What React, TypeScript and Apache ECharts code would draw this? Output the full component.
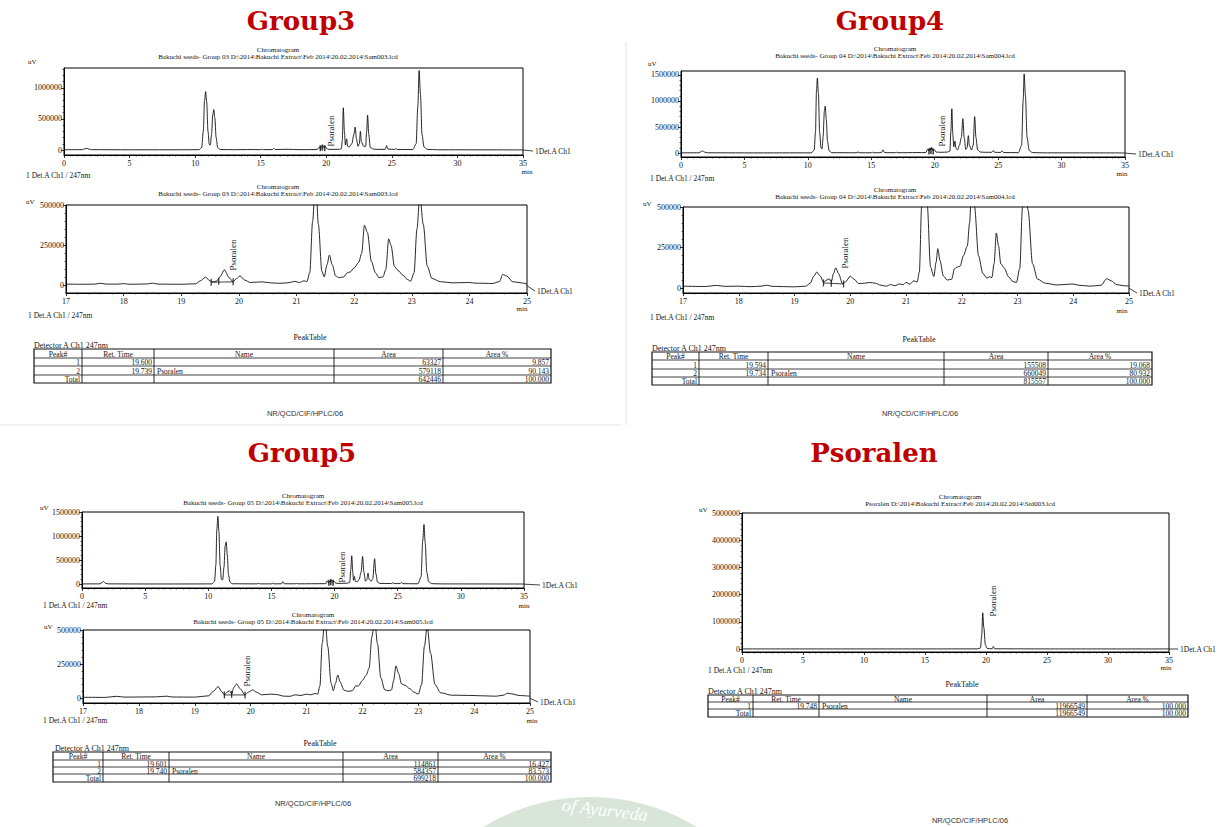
import React, { useEffect, useRef } from "react";
import * as echarts from "echarts";

// ---------------- DATA ----------------
const g3Full: number[][] = [
  [0, 5000], [1.4, 6000], [1.6, 20000], [1.75, 28000], [1.9, 15000], [2.1, 6000], [5, 4000], [8, 4000],
  [10.3, 5000], [10.5, 40000], [10.62, 300000], [10.72, 800000], [10.8, 940000], [10.88, 780000], [10.98, 300000],
  [11.08, 90000], [11.16, 80000], [11.25, 250000], [11.34, 560000], [11.42, 650000], [11.5, 520000], [11.6, 200000],
  [11.72, 40000], [11.9, 8000], [13, 5000], [14, 8000], [15.0, 6000], [15.1, 15000], [15.2, 6000], [15.9, 8000],
  [16.0, 30000], [16.1, 8000], [17, 12000], [18, 6000], [19.3, 8000], [19.5, 50000], [19.55, 15000], [19.65, 60000],
  [19.74, 75000], [19.82, 40000], [19.9, 60000], [20.0, 30000], [20.2, 10000], [21.0, 12000], [21.15, 20000],
  [21.22, 150000], [21.3, 680000], [21.38, 300000], [21.46, 80000], [21.55, 180000], [21.63, 60000], [21.75, 50000],
  [21.95, 100000], [22.1, 250000], [22.2, 370000], [22.3, 180000], [22.42, 60000], [22.52, 100000], [22.6, 300000],
  [22.68, 130000], [22.85, 60000], [23.0, 60000], [23.08, 300000], [23.15, 560000], [23.24, 250000], [23.35, 40000],
  [23.6, 15000], [24.0, 10000], [24.5, 12000], [24.6, 70000], [24.7, 15000], [25.2, 10000], [25.3, 25000],
  [25.4, 8000], [26.6, 8000], [26.85, 100000], [26.98, 700000], [27.08, 1280000], [27.18, 900000], [27.3, 250000],
  [27.45, 50000], [27.7, 10000], [28.5, 4000], [35, 2000],
];
const g3Zoom: number[][] = [
  [17, 10000], [17.3, 9000], [17.5, 10000], [17.6, 15000], [17.7, 10000], [17.9, 10000], [18.0, 13000], [18.1, 9000],
  [18.4, 11000], [18.5, 16000], [18.6, 10000], [19.0, 9000], [19.25, 12000], [19.33, 30000], [19.42, 53000],
  [19.5, 30000], [19.55, 22000], [19.62, 30000], [19.67, 55000], [19.75, 98000], [19.83, 50000], [19.9, 25000],
  [19.96, 45000], [20.02, 61000], [20.1, 35000], [20.2, 20000], [20.3, 22000], [20.4, 24000], [20.55, 18000],
  [20.7, 15000], [20.85, 18000], [20.97, 27000], [21.05, 20000], [21.13, 30000], [21.18, 26000], [21.23, 80000],
  [21.28, 400000], [21.33, 680000], [21.38, 380000], [21.44, 90000], [21.48, 55000], [21.53, 130000], [21.57, 190000],
  [21.62, 130000], [21.68, 60000], [21.74, 50000], [21.82, 55000], [21.88, 80000], [21.93, 85000], [22.0, 110000],
  [22.08, 145000], [22.13, 200000], [22.18, 375000], [22.23, 330000], [22.3, 150000], [22.37, 80000], [22.43, 50000],
  [22.5, 55000], [22.55, 100000], [22.6, 290000], [22.64, 250000], [22.7, 120000], [22.76, 95000], [22.85, 65000],
  [22.92, 40000], [22.98, 28000], [23.04, 80000], [23.09, 350000], [23.14, 560000], [23.2, 380000], [23.27, 120000],
  [23.35, 45000], [23.5, 25000], [23.7, 18000], [24.0, 20000], [24.1, 16000], [24.4, 14000], [24.52, 25000],
  [24.58, 70000], [24.65, 60000], [24.75, 25000], [24.9, 18000], [25, 10000],
];
const g4Full: number[][] = [
  [0, 5000], [1.4, 6000], [1.6, 30000], [1.7, 44000], [1.85, 20000], [2.1, 6000], [5, 4000], [8, 4000],
  [10.3, 5000], [10.5, 60000], [10.6, 400000], [10.68, 1200000], [10.75, 1440000], [10.83, 1150000], [10.93, 400000],
  [11.03, 100000], [11.12, 80000], [11.2, 300000], [11.3, 800000], [11.37, 900000], [11.45, 650000], [11.55, 220000],
  [11.68, 40000], [11.9, 8000], [13.8, 6000], [13.95, 20000], [14.1, 6000], [15.0, 6000], [15.1, 15000], [15.2, 6000],
  [15.8, 8000], [15.92, 63000], [16.05, 8000], [16.9, 8000], [17.0, 15000], [17.1, 7000], [18.6, 10000],
  [19.3, 10000], [19.45, 80000], [19.55, 40000], [19.62, 100000], [19.7, 60000], [19.76, 110000], [19.85, 50000],
  [19.92, 70000], [20.0, 60000], [20.1, 20000], [20.5, 15000], [21.0, 20000], [21.2, 40000], [21.27, 400000],
  [21.35, 850000], [21.43, 350000], [21.5, 120000], [21.6, 230000], [21.68, 90000], [21.8, 60000], [21.95, 150000],
  [22.1, 300000], [22.22, 660000], [22.32, 300000], [22.45, 70000], [22.55, 100000], [22.65, 335000], [22.73, 150000],
  [22.9, 60000], [23.03, 150000], [23.15, 700000], [23.25, 300000], [23.38, 60000], [23.6, 20000], [24.0, 15000],
  [24.5, 15000], [24.62, 50000], [24.72, 15000], [25.2, 12000], [25.3, 45000], [25.42, 10000], [26.6, 8000],
  [26.85, 150000], [26.97, 1000000], [27.05, 1520000], [27.15, 1100000], [27.28, 300000], [27.45, 50000],
  [27.7, 10000], [28.5, 5000], [35, 3000],
];
const g4Zoom: number[][] = [
  [17, 12000], [17.4, 10000], [17.6, 17000], [17.75, 11000], [18.0, 12000], [18.2, 9000], [18.4, 12000],
  [18.5, 18000], [18.6, 11000], [19.0, 8000], [19.2, 12000], [19.28, 30000], [19.35, 75000], [19.4, 99000],
  [19.46, 75000], [19.52, 37000], [19.58, 50000], [19.62, 58000], [19.66, 40000], [19.7, 90000], [19.74, 125000],
  [19.79, 90000], [19.86, 28000], [19.92, 40000], [20.0, 74000], [20.07, 55000], [20.15, 28000], [20.25, 30000],
  [20.35, 35000], [20.45, 30000], [20.55, 18000], [20.65, 12000], [20.72, 22000], [20.8, 15000], [20.88, 25000],
  [20.95, 22000], [21.0, 35000], [21.07, 25000], [21.14, 45000], [21.2, 38000], [21.24, 100000], [21.28, 500000],
  [21.33, 850000], [21.38, 520000], [21.44, 130000], [21.5, 72000], [21.54, 160000], [21.57, 243000],
  [21.61, 170000], [21.67, 75000], [21.74, 50000], [21.82, 55000], [21.87, 120000], [21.92, 130000],
  [21.97, 135000], [22.03, 200000], [22.1, 260000], [22.14, 400000], [22.18, 660000], [22.23, 500000],
  [22.3, 200000], [22.38, 90000], [22.45, 62000], [22.5, 70000], [22.54, 65000], [22.58, 150000], [22.62, 340000],
  [22.66, 260000], [22.7, 150000], [22.76, 125000], [22.84, 70000], [22.92, 40000], [22.98, 35000], [23.04, 120000],
  [23.09, 500000], [23.13, 700000], [23.19, 480000], [23.27, 150000], [23.36, 55000], [23.5, 30000], [23.7, 20000],
  [24.0, 25000], [24.1, 18000], [24.3, 12000], [24.5, 18000], [24.6, 58000], [24.68, 45000], [24.78, 22000],
  [24.9, 15000], [25, 12000],
];
const g5Full: number[][] = [
  [0, 5000], [1.4, 6000], [1.6, 35000], [1.7, 55000], [1.85, 20000], [2.1, 6000], [5, 4000], [8, 4000],
  [10.3, 5000], [10.5, 60000], [10.6, 400000], [10.68, 1150000], [10.76, 1410000], [10.84, 1100000], [10.94, 380000],
  [11.04, 100000], [11.14, 90000], [11.24, 350000], [11.34, 800000], [11.42, 880000], [11.5, 620000], [11.6, 200000],
  [11.72, 40000], [11.9, 8000], [13.85, 6000], [14.0, 15000], [14.1, 6000], [15.0, 6000], [15.1, 20000], [15.2, 6000],
  [15.8, 8000], [15.9, 55000], [16.02, 8000], [16.9, 8000], [17.0, 15000], [17.1, 7000], [19.3, 10000],
  [19.42, 70000], [19.52, 30000], [19.62, 60000], [19.68, 40000], [19.75, 90000], [19.85, 40000], [19.95, 65000],
  [20.05, 30000], [20.2, 15000], [21.0, 20000], [21.2, 35000], [21.28, 300000], [21.36, 590000], [21.44, 250000],
  [21.5, 80000], [21.57, 160000], [21.65, 60000], [21.8, 50000], [21.95, 100000], [22.1, 250000], [22.22, 576000],
  [22.32, 250000], [22.45, 60000], [22.55, 90000], [22.65, 230000], [22.73, 100000], [22.9, 60000], [23.03, 120000],
  [23.17, 528000], [23.27, 220000], [23.4, 40000], [23.6, 15000], [24.5, 12000], [24.62, 30000], [24.72, 12000],
  [25.2, 12000], [25.3, 35000], [25.42, 10000], [26.6, 8000], [26.85, 150000], [26.98, 900000], [27.08, 1240000],
  [27.18, 850000], [27.3, 250000], [27.45, 50000], [27.7, 10000], [28.5, 5000], [35, 3000],
];
const g5Zoom: number[][] = [
  [17, 7000], [17.4, 6000], [17.6, 14000], [17.75, 8000], [18.0, 9000], [18.3, 10000], [18.5, 15000], [18.6, 9000],
  [19.0, 8000], [19.25, 18000], [19.33, 50000], [19.42, 85000], [19.48, 50000], [19.53, 25000], [19.58, 45000],
  [19.62, 55000], [19.66, 30000], [19.7, 80000], [19.75, 105000], [19.81, 70000], [19.9, 25000], [19.96, 45000],
  [20.04, 61000], [20.1, 45000], [20.2, 25000], [20.35, 30000], [20.45, 28000], [20.6, 15000], [20.7, 14000],
  [20.8, 25000], [20.9, 20000], [21.0, 30000], [21.08, 25000], [21.15, 35000], [21.2, 30000], [21.24, 90000],
  [21.28, 400000], [21.33, 590000], [21.38, 380000], [21.44, 110000], [21.48, 55000], [21.52, 110000],
  [21.56, 170000], [21.6, 120000], [21.67, 60000], [21.74, 50000], [21.82, 55000], [21.88, 90000], [21.93, 90000],
  [22.0, 130000], [22.07, 170000], [22.12, 220000], [22.17, 450000], [22.22, 576000], [22.27, 400000],
  [22.33, 150000], [22.4, 62000], [22.46, 55000], [22.52, 60000], [22.56, 130000], [22.6, 237000], [22.65, 180000],
  [22.7, 105000], [22.76, 95000], [22.85, 70000], [22.92, 45000], [23.0, 30000], [23.06, 100000], [23.11, 380000],
  [23.16, 528000], [23.22, 330000], [23.3, 100000], [23.4, 40000], [23.6, 22000], [24.0, 20000], [24.1, 18000],
  [24.4, 15000], [24.52, 22000], [24.6, 37000], [24.7, 30000], [24.8, 20000], [25, 15000],
];
const psoFull: number[][] = [
  [0, 3000], [5, 3000], [10, 3000], [15, 3000], [19.3, 5000], [19.55, 40000], [19.65, 500000], [19.73, 1330000],
  [19.82, 800000], [19.95, 150000], [20.1, 20000], [20.5, 8000], [20.6, 100000], [20.7, 8000], [25, 3000], [35, 2000],
];

// integration marks (peak start / end) near the psoralen peak
const g3Marks: number[][] = [[19.52, 22000], [19.65, 28000], [19.9, 24000]];
const g4Marks: number[][] = [[19.52, 32000], [19.66, 30000], [19.88, 26000]];
const g5Marks: number[][] = [[19.53, 24000], [19.66, 28000], [19.9, 24000]];
const fullMarks: number[][] = [[19.55, 30000], [19.7, 40000], [19.88, 30000]];

const ticksTop3 = [0, 500000, 1000000];
const ticksTop15 = [0, 500000, 1000000, 1500000];
const ticksZoom = [0, 250000, 500000];
const ticksPso = [0, 1000000, 2000000, 3000000, 4000000, 5000000];

const tableHeader = ["Peak#", "Ret. Time", "Name", "Area", "Area %"];
const g3Peaks = [["1", "19.600", "", "63327", "9.857"], ["2", "19.739", "Psoralen", "579118", "90.143"]];
const g3Total = ["Total", "", "", "642446", "100.000"];
const g4Peaks = [["1", "19.594", "", "155508", "19.068"], ["2", "19.734", "Psoralen", "660049", "80.932"]];
const g4Total = ["Total", "", "", "815557", "100.000"];
const g5Peaks = [["1", "19.601", "", "114861", "16.427"], ["2", "19.740", "Psoralen", "584357", "83.573"]];
const g5Total = ["Total", "", "", "699218", "100.000"];
const psoPeaks = [["1", "19.748", "Psoralen", "11966549", "100.000"]];
const psoTotal = ["Total", "", "", "11966549", "100.000"];

const sub3 = "Bakuchi seeds- Group 03 D:\\2014\\Bakuchi Extract\\Feb 2014\\20.02.2014\\Sam003.lcd";
const sub4 = "Bakuchi seeds- Group 04 D:\\2014\\Bakuchi Extract\\Feb 2014\\20.02.2014\\Sam004.lcd";
const sub5 = "Bakuchi seeds- Group 05 D:\\2014\\Bakuchi Extract\\Feb 2014\\20.02.2014\\Sam005.lcd";
const subP = "Psoralen D:\\2014\\Bakuchi Extract\\Feb 2014\\20.02.2014\\Std003.lcd";

// ---------------- LAYOUT ----------------
const SERIF = "'Liberation Serif', 'Times New Roman', serif";
const SANS = "'Liberation Sans', Arial, sans-serif";
const TITLE_FONT = "'DejaVu Serif', serif";
const RED = "#C00000";

type Spec = {
  data: number[][]; marks: number[][] | null; zoom: boolean;
  g: { left: number; top: number; width: number; height: number };
  xr: [number, number, number]; yr: [number, number]; ticks: number[]; minor: number;
  cx: number; subY: number; sub: string; uv: [number, number]; det: [number, number];
  min: [number, number]; detR: [number, number]; pso: [number, number];
};

const specs: Spec[] = [
  { data: g3Full, marks: fullMarks, zoom: false, g: { left: 64, top: 68, width: 459, height: 87 }, xr: [0, 35, 5], yr: [-80000, 1320000], ticks: ticksTop3, minor: 100000,
    cx: 278, sub: sub3, subY: 57, uv: [28, 62], det: [26, 175], min: [527, 172], detR: [535, 151], pso: [331, 131] },
  { data: g3Zoom, marks: g3Marks, zoom: true, g: { left: 66, top: 205, width: 461, height: 88 }, xr: [17, 25, 1], yr: [-45000, 500000], ticks: ticksZoom, minor: 50000,
    cx: 278, sub: sub3, subY: 194, uv: [26, 202], det: [28, 315], min: [522, 309], detR: [537, 291], pso: [233, 255] },
  { data: g4Full, marks: fullMarks, zoom: false, g: { left: 681, top: 71, width: 444, height: 86 }, xr: [0, 35, 5], yr: [-75000, 1575000], ticks: ticksTop15, minor: 100000,
    cx: 895, sub: sub4, subY: 56, uv: [648, 64], det: [650, 178], min: [1122, 174], detR: [1138, 154], pso: [942, 131] },
  { data: g4Zoom, marks: g4Marks, zoom: true, g: { left: 683, top: 207, width: 446, height: 86 }, xr: [17, 25, 1], yr: [-30000, 500000], ticks: ticksZoom, minor: 50000,
    cx: 895, sub: sub4, subY: 197, uv: [643, 204], det: [650, 317], min: [1122, 311], detR: [1139, 293], pso: [845, 253] },
  { data: g5Full, marks: fullMarks, zoom: false, g: { left: 82, top: 512, width: 442, height: 76 }, xr: [0, 35, 5], yr: [-80000, 1500000], ticks: ticksTop15, minor: 100000,
    cx: 303, sub: sub5, subY: 503, uv: [40, 508], det: [43, 605], min: [524, 606], detR: [542, 585], pso: [342, 567] },
  { data: g5Zoom, marks: g5Marks, zoom: true, g: { left: 83, top: 630, width: 447, height: 73 }, xr: [17, 25, 1], yr: [-35000, 500000], ticks: ticksZoom, minor: 50000,
    cx: 313, sub: sub5, subY: 622, uv: [44, 627], det: [43, 720], min: [532, 721], detR: [540, 702], pso: [247, 671] },
  { data: psoFull, marks: null, zoom: false, g: { left: 742, top: 513, width: 427, height: 139 }, xr: [0, 35, 5], yr: [-110000, 5000000], ticks: ticksPso, minor: 200000,
    cx: 960, sub: subP, subY: 504, uv: [699, 510], det: [708, 670], min: [1166, 668], detR: [1180, 649], pso: [993, 601] },
];

const tables = [
  { cols: [34, 82, 154, 334, 443, 551], rows: [349, 358, 366, 375, 383], peaks: g3Peaks, total: g3Total, pt: [310, 337], det: [34, 345], foot: [305, 413] },
  { cols: [652, 699, 768, 944, 1048, 1152], rows: [352, 360, 369, 377, 385], peaks: g4Peaks, total: g4Total, pt: [919, 339], det: [652, 348], foot: [920, 413] },
  { cols: [53, 103, 169, 343, 438, 551], rows: [752, 760, 767, 774, 782], peaks: g5Peaks, total: g5Total, pt: [320, 743], det: [55, 748], foot: [313, 803] },
  { cols: [708, 753, 819, 987, 1087, 1188], rows: [695, 702, 709, 717], peaks: psoPeaks, total: psoTotal, pt: [962, 684], det: [708, 691], foot: [970, 820] },
];

function txt(x: number, y: number, text: string, size: number, align = "left", vAlign = "middle", extra: any = {}) {
  return {
    type: "text", x, y, silent: true, z: 10,
    style: { text, fontSize: size, fontFamily: SERIF, fill: "#151515", align, verticalAlign: vAlign, textAlign: align, textVerticalAlign: vAlign, ...extra },
  };
}
function ln(x1: number, y1: number, x2: number, y2: number, w = 0.8, color = "#111") {
  return { type: "line", silent: true, z: 10, shape: { x1, y1, x2, y2 }, style: { stroke: color, lineWidth: w } };
}

function buildOption() {
  const grid: any[] = [];
  const xAxis: any[] = [];
  const yAxis: any[] = [];
  const series: any[] = [];
  const elements: any[] = [];

  specs.forEach((s, i) => {
    grid.push({ ...s.g, show: true, borderColor: "#000", borderWidth: 1, backgroundColor: "transparent" });
    xAxis.push({
      gridIndex: i, type: "value", min: s.xr[0], max: s.xr[1], interval: s.xr[2],
      axisLine: { show: true, onZero: false, lineStyle: { color: "#000", width: 1 } },
      axisTick: { show: true, length: 3, lineStyle: { color: "#000", width: 0.8 } },
      minorTick: { show: true, splitNumber: s.zoom ? 5 : 10, length: 1.5, lineStyle: { color: "#000", width: 0.6 } },
      axisLabel: { fontSize: 8, fontFamily: SERIF, color: "#151515", margin: 4 },
      splitLine: { show: false }, minorSplitLine: { show: false },
    });
    const minorVals: number[] = [];
    for (let v = s.minor; v <= s.yr[1] + 1; v += s.minor) if (!s.ticks.includes(v)) minorVals.push(v);
    yAxis.push({
      gridIndex: i, type: "value", min: s.yr[0], max: s.yr[1],
      axisLine: { show: true, onZero: false, lineStyle: { color: "#000", width: 1 } },
      axisTick: { show: true, length: 3, customValues: s.ticks, lineStyle: { color: "#000", width: 0.8 } },
      axisLabel: { customValues: s.ticks, fontSize: 8, fontFamily: SERIF, color: "#151515", margin: 2, formatter: (v: number) => String(v) },
      splitLine: { show: false },
    });
    yAxis.push({
      gridIndex: i, type: "value", min: s.yr[0], max: s.yr[1], position: "left",
      axisLine: { show: false }, axisLabel: { show: false }, splitLine: { show: false },
      axisTick: { show: true, length: 1.5, customValues: minorVals, lineStyle: { color: "#000", width: 0.6 } },
    });
    series.push({
      type: "line", xAxisIndex: i, yAxisIndex: 2 * i, data: s.data, showSymbol: false, symbol: "none",
      smooth: 0.3, smoothMonotone: "x", clip: true, silent: true,
      lineStyle: { color: "#111", width: 0.9 },
    });
    if (s.marks) {
      if (s.zoom) {
        series.push({
          type: "line", xAxisIndex: i, yAxisIndex: 2 * i, data: [s.marks[0], s.marks[s.marks.length - 1]],
          showSymbol: false, symbol: "none", silent: true, lineStyle: { color: "#111", width: 0.8 },
        });
      }
      series.push({
        type: "scatter", xAxisIndex: i, yAxisIndex: 2 * i, data: s.marks, symbol: "rect",
        symbolSize: s.zoom ? [1.3, 7] : [1.6, 6], silent: true, itemStyle: { color: "#111" },
      });
    }

    // texts around the chromatogram
    const right = s.g.left + s.g.width;
    const zeroY = s.g.top + (s.g.height * s.yr[1]) / (s.yr[1] - s.yr[0]);
    elements.push(txt(s.cx, s.subY - 3.5, "Chromatogram", 7, "center", "bottom"));
    elements.push(txt(s.cx, s.subY, s.sub, 7, "center"));
    elements.push(txt(s.uv[0], s.uv[1], "uV", 7, "left"));
    elements.push(txt(s.det[0], s.det[1], "1 Det.A Ch1 / 247nm", 7.5, "left"));
    elements.push(txt(s.min[0], s.min[1], "min", 7, "center"));
    elements.push(ln(right, zeroY, s.detR[0] - 2, s.detR[1]));
    elements.push(txt(s.detR[0], s.detR[1], "1Det.A Ch1", 7.5, "left"));
    elements.push({ ...txt(s.pso[0], s.pso[1], "Psoralen", 9, "center"), rotation: Math.PI / 2 });
  });

  // Panel titles
  const titles: [string, number, number][] = [["Group3", 301, 21], ["Group4", 890, 21], ["Group5", 302, 453], ["Psoralen", 874, 453]];
  titles.forEach(([t, x, y]) =>
    elements.push({
      type: "text", x, y, silent: true, z: 10,
      style: { text: t, fontSize: 26, fontWeight: "bold", fontFamily: TITLE_FONT, fill: RED, align: "center", verticalAlign: "middle", textAlign: "center", textVerticalAlign: "middle" },
    })
  );

  // Peak tables
  tables.forEach((tb) => {
    const { cols, rows } = tb;
    const cells = [tableHeader, ...tb.peaks, tb.total];
    const L = cols[0], R = cols[cols.length - 1], T = rows[0], B = rows[rows.length - 1];
    elements.push(txt(tb.pt[0], tb.pt[1], "PeakTable", 8, "center"));
    elements.push(txt(tb.det[0], tb.det[1], "Detector A Ch1 247nm", 8, "left"));
    elements.push({ type: "rect", silent: true, z: 10, shape: { x: L, y: T, width: R - L, height: B - T }, style: { fill: "none", stroke: "#111", lineWidth: 1.2 } });
    for (let r = 1; r < rows.length - 1; r++) elements.push(ln(L, rows[r], R, rows[r], 0.8));
    for (let c = 1; c < cols.length - 1; c++) elements.push(ln(cols[c], T, cols[c], B, 0.9));
    cells.forEach((row, r) =>
      row.forEach((cell, c) => {
        if (!cell) return;
        const header = r === 0;
        const align = header ? "center" : c === 2 ? "left" : "right";
        const x = header ? (cols[c] + cols[c + 1]) / 2 : c === 2 ? cols[c] + 3 : cols[c + 1] - 2;
        const y = (rows[r] + rows[r + 1]) / 2 + 0.5;
        elements.push(txt(x, y, cell, 7.5, align));
      })
    );
    elements.push(txt(tb.foot[0], tb.foot[1], "NR/QCD/CIF/HPLC/06", 7.5, "center", "middle", { fontFamily: SANS, fill: "#333" }));
  });

  // faint panel separators
  elements.push(ln(0, 425, 620, 425, 1, "#e2e2e2"));
  elements.push(ln(626, 42, 626, 425, 1, "#e2e2e2"));

  // watermark
  elements.push({ type: "circle", silent: true, z: 1, shape: { cx: 590, cy: 1002, r: 205 }, style: { fill: "#d8e5d8" } });
  elements.push({
    type: "text", x: 605, y: 810, rotation: -0.12, silent: true, z: 2,
    style: { text: "of Ayurveda", fontSize: 18, fontStyle: "italic", fontFamily: SERIF, fill: "#ffffff", align: "center", verticalAlign: "middle", textAlign: "center", textVerticalAlign: "middle" },
  });

  return { animation: false, backgroundColor: "#ffffff", grid, xAxis, yAxis, series, graphic: elements };
}

export default function App() {
  const ref = useRef<HTMLDivElement>(null);
  useEffect(() => {
    const chart = echarts.init(ref.current!, null, { renderer: "svg", width: 1219, height: 827 });
    chart.setOption(buildOption() as any);
    return () => chart.dispose();
  }, []);
  return <div ref={ref} style={{ position: "fixed", left: 0, top: 0, width: 1219, height: 827, background: "#fff" }} />;
}
